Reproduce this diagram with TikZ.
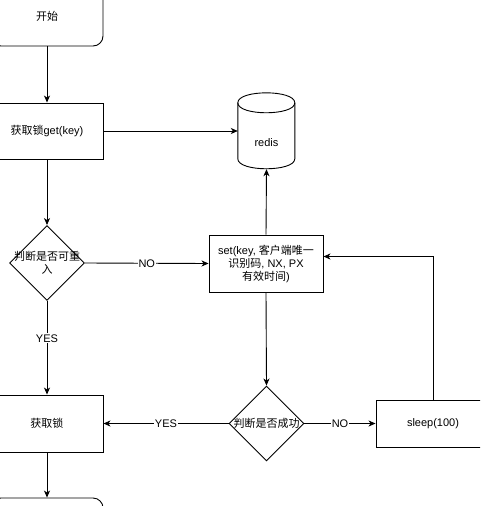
\documentclass[tikz,border=0pt]{standalone}
\usepackage{fontspec}
\setmainfont{Liberation Sans}
\newfontfamily\cjk{Noto Sans CJK SC}
\usetikzlibrary{shapes.geometric,arrows.meta}
\tikzset{
  box/.style={draw, line width=0.9pt, rectangle, minimum width=112pt, minimum height=57pt, inner sep=2pt, align=center, font=\fontsize{11pt}{13pt}\selectfont},
  rbox/.style={box, rounded corners=10pt},
  dia/.style={draw, line width=0.9pt, diamond, minimum width=75pt, minimum height=75pt, inner sep=0pt},
  dtext/.style={align=center, inner sep=0pt, font=\fontsize{11pt}{13pt}\selectfont},
  arr/.style={line width=0.9pt, -{Stealth[length=7pt,width=6pt,inset=2pt]}},
  lab/.style={fill=white, inner sep=1pt, font=\fontsize{11pt}{13pt}\selectfont},
}
\begin{document}
\begin{tikzpicture}[x=1pt,y=-1pt]
\useasboundingbox (0,0) rectangle (480,506);
\clip (0,0) rectangle (480,506);
\node[rbox, minimum height=60pt] (start) at (47,16) {\cjk 开始};
\node[box, minimum height=56pt] (get) at (47,131) {{\cjk 获取锁}get(key)};
\node[rectangle, minimum width=57pt, minimum height=76pt, inner sep=0pt, font=\fontsize{11pt}{13pt}\selectfont, text depth=0pt] (redis) at (266.5,131) {};
\node[font=\fontsize{11pt}{13pt}\selectfont] (redist) at (266.5,143) {redis};
\draw[line width=0.9pt] (redis.north west) ++(0,10)
  .. controls +(0,-13.3) and +(0,-13.3) .. ++(57,0)
  -- ++(0,56)
  .. controls +(0,13.3) and +(0,13.3) .. ++(-57,0)
  -- cycle;
\draw[line width=0.9pt] (redis.north west) ++(0,10)
  .. controls +(0,13.3) and +(0,13.3) .. ++(57,0);
\node[dia] (d1) at (47,263) {};
\node[dtext] (d1t) at (47,263) {{\cjk 判断是否可重}\\{\cjk 入}};
\node[box, minimum width=114pt] (set) at (266,263.5) {set(key, {\cjk 客户端唯一}\\{\cjk 识别码}, NX, PX\\{\cjk 有效时间})};
\node[box] (lock) at (47,423.5) {\cjk 获取锁};
\node[dia] (d2) at (266.5,423.5) {};
\node[dtext] (d2t) at (266.5,423.5) {\cjk 判断是否成功};
\node[box, minimum width=114pt, minimum height=47pt] (sleep) at (433,423.5) {sleep(100)};
\node[rbox, minimum height=60pt] (end) at (47,528) {};
\draw[arr] (start.south) -- (get.north);
\draw[arr] (get.east) -- (redis.west);
\draw[arr] (get.south) -- (d1.north);
\draw[arr] (d1.east) -- node[lab, pos=0.5] {NO} (set.west);
\draw[arr] (d1.south) -- node[lab, pos=0.4] {YES} (lock.north);
\draw[arr] (set.north) -- (redis.south);
\draw[arr] (set.south) -- (d2.north);
\draw[arr] (d2.west) -- node[lab, pos=0.5] {YES} (lock.east);
\draw[arr] (d2.east) -- node[lab, pos=0.5] {NO} (sleep.west);
\coordinate (sret) at ([yshift=7pt]set.east);
\draw[arr] (sleep.north) -- (sleep.north |- sret) -- (sret);
\draw[arr] (lock.south) -- (end.north);
\end{tikzpicture}
\end{document}
